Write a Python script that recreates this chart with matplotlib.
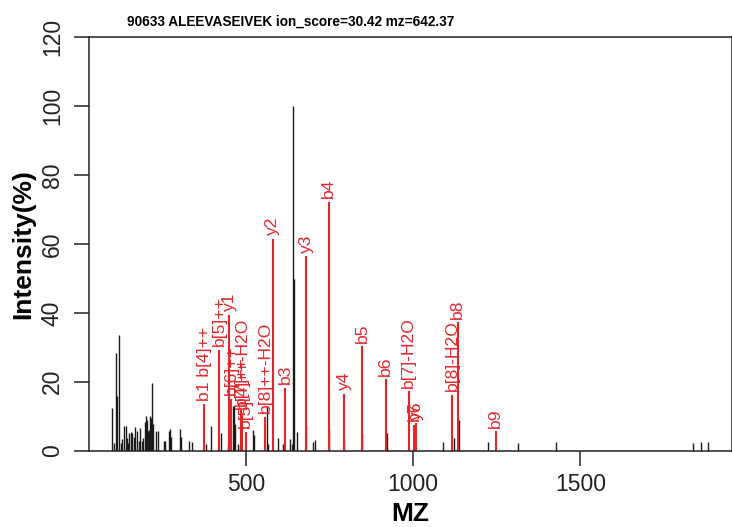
import matplotlib
matplotlib.use("Agg")
import matplotlib.pyplot as plt

plt.rcParams['font.family'] = ['Liberation Sans', 'DejaVu Sans']

title = "90633 ALEEVASEIVEK ion_score=30.42 mz=642.37"

# unmatched peaks (mz, intensity %)
black_mz = [101.3, 107.3, 112.4, 116.3, 120.4, 127.3, 131.2, 137.2, 141.4, 145.2,
            149.1, 152.1, 157.2, 161.1, 165.3, 170.1, 176.0, 182.0, 185.0, 191.0,
            194.0, 198.1, 201.1, 204.1, 208.0, 211.0, 214.0, 217.0, 220.9, 223.8,
            231.0, 238.8, 255.8, 258.8, 269.9, 273.8, 276.7, 303.6, 306.6, 329.6,
            339.5, 380.4, 395.4, 426.2, 448.0, 461.0, 466.0, 468.0, 475.5, 481.5,
            521.0, 525.0, 564.6, 568.0, 595.6, 612.0, 632.4, 638.0, 642.4, 644.4,
            653.0, 680.0, 702.0, 707.0, 748.0, 794.0, 847.0, 921.0, 1089.0, 1122.5,
            1138.0, 1225.0, 1315.0, 1426.0, 1838.0, 1861.0, 1883.0]
black_int = [12.4, 2.2, 28.4, 15.8, 33.6, 2.2, 3.4, 7.3, 7.1, 3.7,
             2.2, 5.2, 5.4, 5.2, 4.0, 7.0, 5.7, 2.8, 6.5, 2.8,
             3.6, 8.3, 10.0, 9.0, 5.8, 6.1, 10.2, 9.5, 19.7, 7.8,
             5.6, 5.8, 2.8, 2.8, 5.8, 6.4, 4.0, 6.4, 4.0, 2.9,
             2.5, 2.0, 7.2, 5.2, 2.0, 12.9, 13.1, 7.7, 2.0, 1.5,
             6.0, 4.5, 12.9, 2.0, 3.8, 2.0, 3.5, 2.0, 100.0, 49.7,
             5.5, 7.5, 2.5, 3.0, 6.0, 3.0, 5.0, 5.0, 2.6, 3.7,
             8.9, 2.6, 2.3, 2.5, 2.3, 2.5, 2.5]

# matched fragment ions
ion_mz = [376.3, 421.0, 451.0, 456.0, 487.0, 490.0, 500.0, 557.7, 580.6, 618.0,
          680.0, 748.0, 794.0, 847.5, 919.0, 987.0, 1003.0, 1009.0, 1117.0, 1133.6,
          1247.0]
ion_int = [13.5, 29.3, 39.5, 15.1, 11.9, 11.0, 5.5, 9.9, 61.5, 18.3,
           56.5, 72.3, 16.6, 30.4, 20.8, 17.2, 7.5, 8.0, 16.3, 37.3,
           5.7]
ion_lab = ["b1 b[4]++", "b[5]++", "y1", "b[6]++", "b[7]++", "b[4]++-H2O", "b[5]", "b[8]++-H2O",
           "y2", "b3", "y3", "b4", "y4", "b5", "b6", "b[7]-H2O", "b7", "y6",
           "b[8]-H2O", "b8", "b9"]

fig = plt.figure(figsize=(7.32, 5.27), dpi=100)
ax = fig.add_axes([88.5 / 732, 1 - 450.7 / 527, 643 / 732, 413.4 / 527])

ax.vlines(black_mz, 0, black_int, colors='#1a1a1a', linewidth=1.0)
ax.vlines(ion_mz, 0, ion_int, colors='#e4262b', linewidth=1.5)
for m, h, s in zip(ion_mz, ion_int, ion_lab):
    ax.text(m, h + 1.0, s, rotation=90, ha='center', va='bottom',
            color='#e4262b', fontsize=12.6)

ax.set_xlim(30, 1952)
ax.set_ylim(0, 120)
ax.set_xticks([500, 1000, 1500])
ax.set_yticks(range(0, 121, 20))
ax.tick_params(direction='out', length=10.8, width=1.1, color='#222222',
               labelsize=16.5, labelcolor='#222222')
ax.tick_params(axis='x', pad=5)
ax.tick_params(axis='y', pad=7, labelrotation=90)
for t in ax.get_yticklabels():
    t.set_va('center')
for sp in ax.spines.values():
    sp.set_linewidth(1.1)
    sp.set_color('#222222')

ax.set_xlabel('MZ', fontsize=19, fontweight='bold')
ax.xaxis.set_label_coords(0.5, -0.153)
ax.xaxis.label.set_va('center')
ax.set_ylabel('Intensity(%)', fontsize=19, fontweight='bold')
ax.yaxis.set_label_coords(-0.102, 0.5)
ax.yaxis.label.set_va('center')

fig.text(291 / 732, 1 - 22 / 527, title, ha='center', va='center',
         fontsize=9.8, fontweight='bold')

fig.savefig('out.png', dpi=100)
